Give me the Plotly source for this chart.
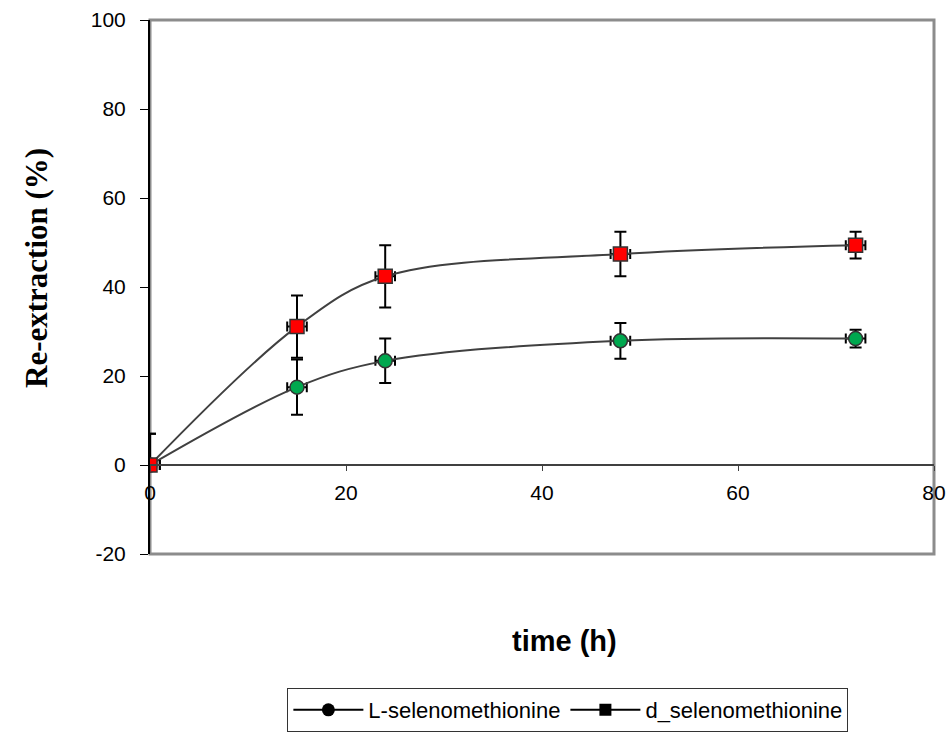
import plotly.graph_objects as go

time_h = [0, 15, 24, 48, 72]
l_selenomethionine = [0, 17.5, 23.4, 27.9, 28.4]
l_err_plus = [7, 6.2, 5.0, 4.0, 2.0]
l_err_minus = [0, 6.2, 5.0, 4.0, 2.0]
d_selenomethionine = [0, 31.1, 42.4, 47.4, 49.4]
d_err_plus = [7, 7.0, 7.0, 5.0, 3.0]
d_err_minus = [0, 7.0, 7.0, 5.0, 3.0]
x_err = [1, 1, 1, 1, 1]

x_ticks = [0, 20, 40, 60, 80]
y_ticks = [-20, 0, 20, 40, 60, 80, 100]
y_tick_labels = ["-20", "0", "20", "40", "60", "80", "100"]

fig = go.Figure()

line_col = "#404040"

fig.add_trace(go.Scatter(
    x=time_h, y=l_selenomethionine, mode="lines+markers",
    line=dict(color=line_col, width=2, shape="spline", smoothing=1),
    marker=dict(symbol="circle", size=14, color="#00a84f", line=dict(color="#333333", width=1.5)),
    error_y=dict(type="data", array=l_err_plus, arrayminus=l_err_minus, color="black", thickness=2, width=6),
    error_x=dict(type="data", array=x_err, color="black", thickness=2, width=5),
    showlegend=False, name="L-selenomethionine"))

fig.add_trace(go.Scatter(
    x=time_h, y=d_selenomethionine, mode="lines+markers",
    line=dict(color=line_col, width=2, shape="spline", smoothing=1),
    marker=dict(symbol="square", size=14, color="#ff0000", line=dict(color="#333333", width=1.5)),
    error_y=dict(type="data", array=d_err_plus, arrayminus=d_err_minus, color="black", thickness=2, width=6),
    error_x=dict(type="data", array=x_err, color="black", thickness=2, width=5),
    showlegend=False, name="d_selenomethionine"))

# legend entries (black symbols)
fig.add_trace(go.Scatter(x=[None], y=[None], mode="lines+markers", name="L-selenomethionine",
                         line=dict(color="black", width=2),
                         marker=dict(symbol="circle", size=13, color="black")))
fig.add_trace(go.Scatter(x=[None], y=[None], mode="lines+markers", name="d_selenomethionine",
                         line=dict(color="black", width=2),
                         marker=dict(symbol="square", size=12, color="black")))

fig.update_layout(
    width=948, height=733,
    margin=dict(l=150, r=14, t=20, b=179, autoexpand=False),
    plot_bgcolor="white", paper_bgcolor="white",
    font=dict(family="Liberation Sans, Arial", size=21, color="black"),
    xaxis=dict(range=[0, 80], tickvals=x_ticks, ticks="outside", ticklen=5, tickcolor=line_col,
               showline=True, linecolor=line_col, linewidth=2, showgrid=False, zeroline=False,
               anchor="free", position=20/120, tickfont=dict(size=21), ticklabelstandoff=4,
               automargin=False),
    yaxis=dict(range=[-20, 100], tickvals=y_ticks, ticktext=y_tick_labels, ticks="outside", ticklen=8,
               tickcolor="black", showline=True, linecolor="black", linewidth=2, showgrid=False,
               zeroline=False, tickfont=dict(size=21), ticklabelstandoff=10, automargin=False),
    legend=dict(orientation="h", x=0.533, xanchor="center", y=(554-688)/534, yanchor="top",
                bordercolor="#333333", borderwidth=1, font=dict(size=22, family="Liberation Sans, Arial"),
                itemwidth=70, tracegroupgap=0),
    shapes=[dict(type="rect", xref="paper", yref="paper", x0=0, x1=1, y0=0, y1=1,
                 line=dict(color="#8c8c8c", width=3), layer="below")],
    annotations=[
        dict(text="<b>time (h)</b>", xref="paper", yref="paper", x=(564-150)/784, y=(554-641)/534,
             xanchor="center", yanchor="middle", showarrow=False,
             font=dict(family="Liberation Sans, Arial", size=29)),
        dict(text="<b>Re-extraction (%)</b>", xref="paper", yref="paper", x=(36-150)/784, y=(554-268)/534,
             xanchor="center", yanchor="middle", textangle=-90, showarrow=False,
             font=dict(family="Liberation Serif, Times New Roman", size=31)),
    ],
)

fig.write_html("out.html")
